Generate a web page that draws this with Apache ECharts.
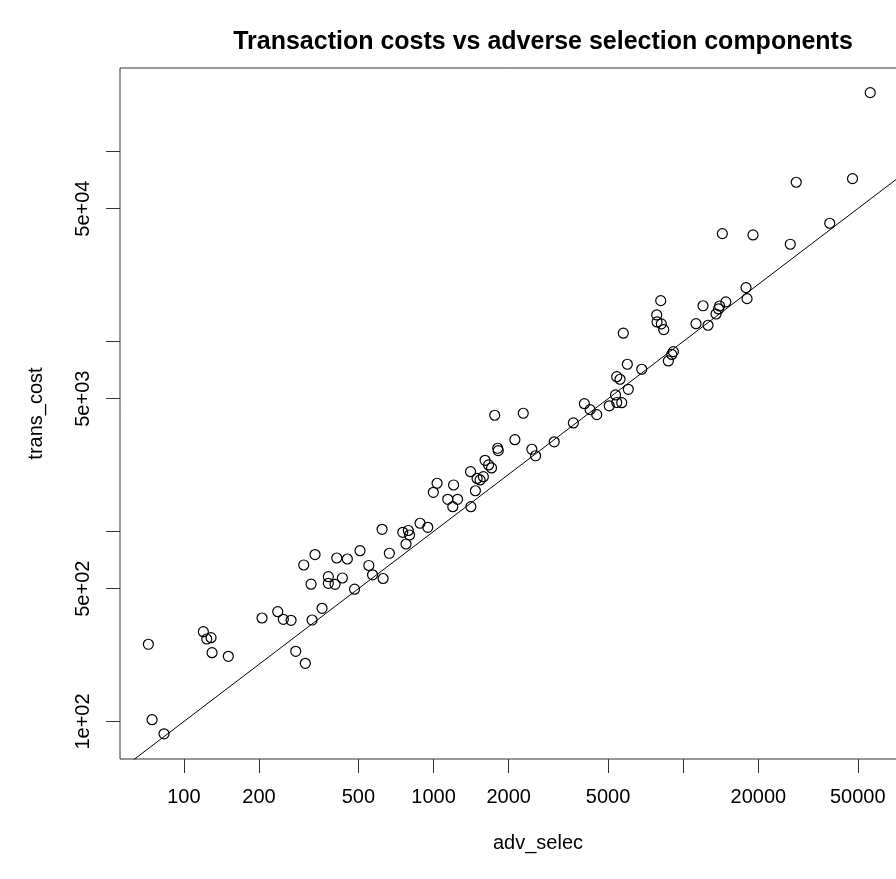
<!DOCTYPE html>
<html><head><meta charset="utf-8">
<script src="https://cdn.jsdelivr.net/npm/echarts@6/dist/echarts.min.js"></script>
<style>html,body{margin:0;padding:0;background:#fff;overflow:hidden}#c{width:896px;height:879px}</style>
</head><body><div id="c"></div>
<script>
const advSelec = [72.1,74.6,83.3,119.7,123.5,128.5,129.7,150.7,205.7,237.7,250.3,268.8,280.6,306.6,302.1,335.3,323.2,357.6,326.2,379,379,403.2,431.4,409.6,451.6,507.6,482.6,550.7,569.8,627.9,665.3,622.1,752.9,792.5,801.3,776,883.1,948,998.2,1033,1203,1140,1248,1194,1411,1407,1494,1536,1583,1471,1608,1661,1707,1758,2287,2117,1807,1816,2476,2562,3043,3631,4018,4236,4505,5054,5356,5416,5671,6026,5416,5583,5971,6820,5754,8716,9128,8994,8126,7831,7855,8171,8354,11250,12570,12000,13530,13850,13980,14810,17840,18010,14340,19030,26830,28350,38610,47640,56090];
const transCost = [255,102.2,86.2,296.9,271.8,276.1,230.2,220.4,350.5,378.3,345.1,340.9,234.2,202.5,666.4,756.4,527.9,394.3,342.1,578.3,533.8,527.3,569.3,725.3,716.6,792.1,497.1,662.4,591.7,565.8,768,1027,990.4,1012,958.5,859.4,1105,1052,1608,1794,1757,1477,1477,1350,1350,2064,1901,1867,1943,1638,2370,2239,2159,4090,4190,3042,2741,2663,2708,2503,2965,3725,4705,4376,4119,4587,5229,4773,4762,5602,6527,6325,7586,7140,11050,7897,8837,8543,16400,13790,12670,12370,11540,12400,12170,15410,13950,14830,15370,16140,19200,16800,36940,36360,32480,68840,41890,71900,203900];
const xTicks = [100,200,500,1000,2000,5000,10000,20000,50000];
const xTickLabels = [100,200,500,1000,2000,5000,20000,50000];
const yTicks = [100,500,1000,5000,10000,50000,100000];
const yTickLabels = [100,500,5000,50000];
const yLabelText = {100:'1e+02',500:'5e+02',5000:'5e+03',50000:'5e+04'};
const refLine = [[30,30],[300000,300000]];

const pts = advSelec.map((x,i)=>[x,transCost[i]]);
const FONT = 'Liberation Sans, Arial, sans-serif';
const chart = echarts.init(document.getElementById('c'), null, {renderer:'canvas'});
chart.setOption({
  animation:false,
  backgroundColor:'#fff',
  title:{text:'Transaction costs vs adverse selection components',left:538,textAlign:'center',top:25,
    textStyle:{fontSize:25,fontWeight:'bold',fontFamily:FONT,color:'#000'}},
  grid:{left:120,top:68,width:836,height:691,outerBoundsMode:'none',containLabel:false,
    show:true,borderColor:'#333',borderWidth:1,backgroundColor:'transparent'},
  xAxis:{type:'log',logBase:10,min:55.5,max:123700,
    name:'adv_selec',nameLocation:'middle',nameGap:74,nameTextStyle:{fontSize:20,fontFamily:FONT,color:'#000'},
    axisLine:{show:false},
    axisTick:{show:true,customValues:xTicks,length:14,lineStyle:{color:'#333',width:1}},
    axisLabel:{show:true,customValues:xTickLabels,fontSize:20,fontFamily:FONT,color:'#000',margin:28,formatter:v=>String(v)},
    splitLine:{show:false},minorTick:{show:false}},
  yAxis:{type:'log',logBase:10,min:63.5,max:274800,
    name:'trans_cost',nameLocation:'middle',nameGap:74,nameRotate:90,nameTextStyle:{fontSize:20,fontFamily:FONT,color:'#000'},
    axisLine:{show:false},
    axisTick:{show:true,customValues:yTicks,length:14,lineStyle:{color:'#333',width:1}},
    axisLabel:{show:true,customValues:yTickLabels,rotate:90,fontSize:20,fontFamily:FONT,color:'#000',margin:27,formatter:v=>yLabelText[Math.round(v)]||''},
    splitLine:{show:false},minorTick:{show:false}},
  series:[
    {type:'line',data:refLine,showSymbol:false,symbol:'none',clip:true,silent:true,
      lineStyle:{color:'#000',width:1},z:1},
    {type:'scatter',data:pts,symbol:'circle',symbolSize:10,silent:true,
      itemStyle:{color:'rgba(0,0,0,0)',borderColor:'#000',borderWidth:1.2,opacity:1},z:2}
  ]
});
</script></body></html>
